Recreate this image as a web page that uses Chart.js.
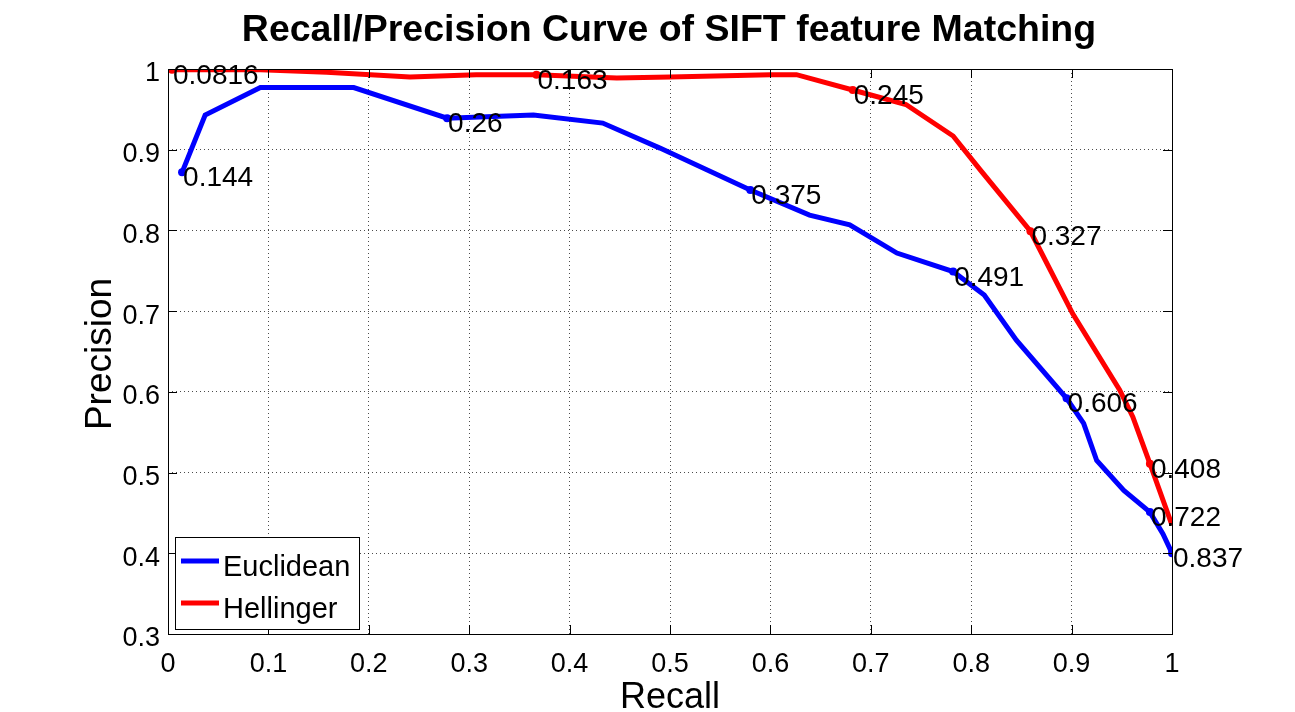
<!DOCTYPE html>
<html>
<head>
<meta charset="utf-8">
<script src="https://cdn.jsdelivr.net/npm/chart.js@4.4.1/dist/chart.umd.min.js"></script>
<style>
html, body { margin: 0; padding: 0; background: #fff; }
</style>
</head>
<body>
<canvas id="myChart" width="1295" height="712"></canvas>
<script>
// recall / precision points
const euclidRecall = [0.014, 0.037, 0.092, 0.185, 0.278, 0.324, 0.364, 0.433, 0.49, 0.58, 0.639, 0.679, 0.726, 0.782, 0.813, 0.845, 0.895, 0.912, 0.925, 0.952, 0.978, 0.991, 1.0];
const euclidPrecision = [0.872, 0.943, 0.977, 0.977, 0.939, 0.941, 0.943, 0.933, 0.902, 0.85, 0.819, 0.807, 0.772, 0.749, 0.72, 0.664, 0.592, 0.561, 0.515, 0.478, 0.451, 0.424, 0.4];
const euclidThresholds = ["0.144", "", "", "", "0.26", "", "", "", "", "0.375", "", "", "", "0.491", "", "", "0.606", "", "", "", "0.722", "", "0.837"];

const hellRecall = [0.004, 0.092, 0.158, 0.241, 0.307, 0.367, 0.447, 0.5, 0.6, 0.626, 0.682, 0.735, 0.782, 0.809, 0.859, 0.901, 0.948, 0.961, 0.978, 1.0];
const hellPrecision = [0.999, 0.999, 0.996, 0.99, 0.993, 0.993, 0.989, 0.99, 0.993, 0.993, 0.974, 0.956, 0.917, 0.875, 0.799, 0.697, 0.602, 0.569, 0.511, 0.435];
const hellThresholds = ["0.0816", "", "", "", "", "0.163", "", "", "", "", "0.245", "", "", "", "0.327", "", "", "", "0.408", ""];

const xTicks = [0, 0.1, 0.2, 0.3, 0.4, 0.5, 0.6, 0.7, 0.8, 0.9, 1];
const yTicks = [0.3, 0.4, 0.5, 0.6, 0.7, 0.8, 0.9, 1];

const FONT = "'Liberation Sans', Arial, Helvetica, sans-serif";

function toPoints(xs, ys) {
    return xs.map((x, i) => ({ x: x, y: ys[i] }));
}

const matlabPlugin = {
    id: "matlabPlugin",
    afterDatasetsDraw(chart) {
        const ctx = chart.ctx;
        const xs = chart.scales.x;
        const ys = chart.scales.y;
        ctx.save();
        ctx.fillStyle = "#000";
        ctx.font = "28px " + FONT;
        ctx.textAlign = "left";
        ctx.textBaseline = "alphabetic";
        const drawLabels = (rx, py, labels) => {
            labels.forEach((t, i) => {
                if (!t) return;
                ctx.fillText(t, xs.getPixelForValue(rx[i]) + 1, ys.getPixelForValue(py[i]) + 14);
            });
        };
        drawLabels(euclidRecall, euclidPrecision, euclidThresholds);
        drawLabels(hellRecall, hellPrecision, hellThresholds);
        ctx.restore();
    },
    afterDraw(chart) {
        const ctx = chart.ctx;
        const a = chart.chartArea;
        const xs = chart.scales.x;
        const ys = chart.scales.y;
        ctx.save();

        // axes box and inward ticks
        ctx.strokeStyle = "#000";
        ctx.lineWidth = 1;
        ctx.strokeRect(a.left + 0.5, a.top + 0.5, a.right - a.left, a.bottom - a.top);
        ctx.beginPath();
        xTicks.forEach(v => {
            const px = Math.round(xs.getPixelForValue(v)) + 0.5;
            ctx.moveTo(px, a.bottom); ctx.lineTo(px, a.bottom - 9);
            ctx.moveTo(px, a.top); ctx.lineTo(px, a.top + 9);
        });
        yTicks.forEach(v => {
            const py = Math.round(ys.getPixelForValue(v)) + 0.5;
            ctx.moveTo(a.left, py); ctx.lineTo(a.left + 9, py);
            ctx.moveTo(a.right, py); ctx.lineTo(a.right - 9, py);
        });
        ctx.stroke();

        // title
        ctx.fillStyle = "#000";
        ctx.textAlign = "center";
        ctx.textBaseline = "alphabetic";
        ctx.font = "bold 37.5px " + FONT;
        ctx.fillText("Recall/Precision Curve of SIFT feature Matching", 669, 41);

        // axis titles
        ctx.font = "36px " + FONT;
        ctx.fillText("Recall", 670, 708);
        ctx.save();
        ctx.translate(111, 354);
        ctx.rotate(-Math.PI / 2);
        ctx.font = "37px " + FONT;
        ctx.fillText("Precision", 0, 0);
        ctx.restore();

        // legend
        const lx = 175, ly = 537, lw = 184, lh = 92;
        ctx.fillStyle = "#fff";
        ctx.fillRect(lx, ly, lw, lh);
        ctx.strokeStyle = "#000";
        ctx.lineWidth = 1;
        ctx.strokeRect(lx + 0.5, ly + 0.5, lw, lh);
        const items = [
            { label: "Euclidean", color: "#0000ff", y: 561 },
            { label: "Hellinger", color: "#ff0000", y: 603 },
        ];
        ctx.font = "29px " + FONT;
        ctx.textAlign = "left";
        ctx.textBaseline = "alphabetic";
        items.forEach(it => {
            ctx.strokeStyle = it.color;
            ctx.lineWidth = 5;
            ctx.beginPath();
            ctx.moveTo(181, it.y);
            ctx.lineTo(219, it.y);
            ctx.stroke();
            ctx.fillStyle = "#000";
            ctx.fillText(it.label, 223, it.y + 15);
        });
        ctx.restore();
    },
};

const ctx = document.getElementById("myChart").getContext("2d");
const myChart = new Chart(ctx, {
    type: "scatter",
    data: {
        datasets: [{
                label: "Euclidean",
                data: toPoints(euclidRecall, euclidPrecision),
                showLine: true,
                borderColor: "#0000ff",
                backgroundColor: "#0000ff",
                borderWidth: 5,
                tension: 0,
                pointRadius: euclidThresholds.map(t => (t ? 4 : 0)),
                pointBorderWidth: 0,
                order: 1,
            },
            {
                label: "Hellinger",
                data: toPoints(hellRecall, hellPrecision),
                showLine: true,
                borderColor: "#ff0000",
                backgroundColor: "#ff0000",
                borderWidth: 5,
                tension: 0,
                pointRadius: hellThresholds.map(t => (t ? 4 : 0)),
                pointBorderWidth: 0,
                order: 0,
            },
        ],
    },
    options: {
        responsive: false,
        animation: false,
        layout: { padding: { top: 69, right: 123, left: 0, bottom: 0 } },
        plugins: {
            legend: { display: false },
            title: { display: false },
            tooltip: { enabled: false },
        },
        scales: {
            x: {
                type: "linear",
                min: 0,
                max: 1,
                afterFit: s => { s.height = 78; },
                afterBuildTicks: s => { s.ticks = xTicks.map(v => ({ value: v })); },
                ticks: {
                    color: "#000",
                    font: { family: FONT, size: 27 },
                    padding: 14,
                    maxRotation: 0,
                    callback: v => parseFloat(v.toFixed(2)).toString(),
                },
                grid: { color: "rgba(0,0,0,0.7)", drawTicks: false, lineWidth: 1 },
                border: { display: false, dash: [1, 3] },
            },
            y: {
                type: "linear",
                min: 0.3,
                max: 1,
                afterFit: s => { s.width = 168; },
                afterBuildTicks: s => { s.ticks = yTicks.map(v => ({ value: v })); },
                ticks: {
                    color: "#000",
                    font: { family: FONT, size: 27 },
                    padding: 8,
                    labelOffset: 5,
                    callback: v => parseFloat(v.toFixed(2)).toString(),
                },
                grid: { color: "rgba(0,0,0,0.7)", drawTicks: false, lineWidth: 1 },
                border: { display: false, dash: [1, 3] },
            },
        },
    },
    plugins: [matlabPlugin],
});
</script>
</body>
</html>
